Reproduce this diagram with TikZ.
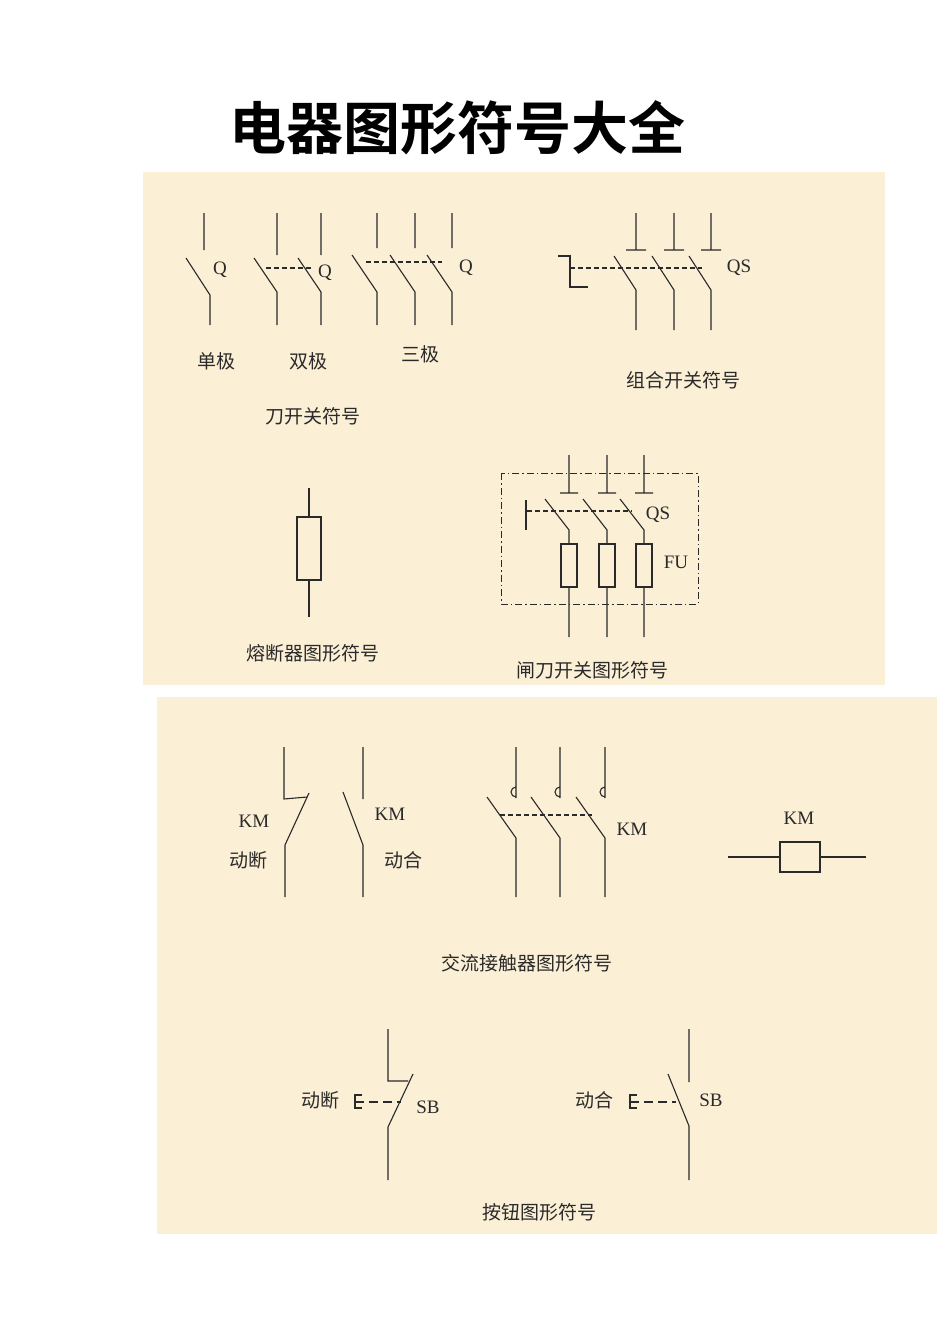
\documentclass[tikz,border=0pt]{standalone}
\usepackage{fontspec}
\setmainfont{Liberation Serif}
\newfontfamily\cjk{Noto Sans CJK SC}
\newfontfamily\cjkbold{Noto Sans CJK SC Bold}
\definecolor{panel}{HTML}{FBEFD6}
\definecolor{ink}{HTML}{2A2A2A}
\begin{document}
\begin{tikzpicture}[x=1pt,y=-1pt,
  w/.style={draw=ink,line width=1.1pt},
  dsh/.style={draw=ink,line width=1.1pt,dash pattern=on 5pt off 3pt},
  cn/.style={font=\cjk\fontsize{19}{19}\selectfont,text=ink,inner sep=0pt},
  lt/.style={font=\fontsize{19}{19}\selectfont,text=ink,inner sep=0pt}]
\useasboundingbox (0,0) rectangle (950,1344);
\fill[white] (0,0) rectangle (950,1344);
\fill[panel] (143,172) rectangle (885,685);
\fill[panel] (157,697) rectangle (937,1234);
\node[font=\cjkbold\fontsize{57}{57}\selectfont,inner sep=0pt] (title) at (457,128) {电器图形符号大全};
% single
\draw[w] (204,213)--(204,250) (186,258)--(210,295)--(210,325);
\node[lt] (q1) at (220,270) {Q};
% double
\foreach \x in {277,321}{\draw[w] (\x,213)--(\x,255) (\x-23,258)--(\x,292)--(\x,325);}
\draw[dsh] (266,268)--(312,268);
\node[lt] (q2) at (325,273) {Q};
% triple
\foreach \x in {377,415,452}{\draw[w] (\x,213)--(\x,248) (\x-25,255)--(\x,292)--(\x,325);}
\draw[dsh] (366,262)--(442,262);
\node[lt] (q3) at (466,268) {Q};
\node[cn] (l1) at (216,361) {单极};
\node[cn] (l2) at (308,361) {双极};
\node[cn] (l3) at (420,354) {三极};
\node[cn] (l4) at (313,416) {刀开关符号};
% group switch
\foreach \x in {636,674,711}{\draw[w] (\x,213)--(\x,250) (\x-10,250)--(\x+10,250) (\x-22,256)--(\x,290)--(\x,330);}
\draw[dsh] (570,268)--(702,268);
\draw[w] (558,256)--(570,256)--(570,287)--(588,287);
\node[lt] (qs1) at (739,268) {QS};
\node[cn] (l5) at (683,380) {组合开关符号};
% fuse
\draw[w] (309,488)--(309,617);
\draw[w,fill=panel] (297,517) rectangle (321,580);
\node[cn] (l6) at (313,653) {熔断器图形符号};
% disconnector
\draw[draw=ink,line width=0.9pt,dash pattern=on 7pt off 3pt on 1.5pt off 3pt] (501,473) rectangle (698,604);
\foreach \x in {569,607,644}{\draw[w] (\x,455)--(\x,493) (\x-9,493)--(\x+9,493) (\x-24,499)--(\x,530)--(\x,637);
  \draw[w,fill=panel] (\x-8,544) rectangle (\x+8,587);}
\draw[dsh] (527,511)--(632,511);
\draw[w] (526,500)--(526,530);
\node[lt] (qs2) at (658,515) {QS};
\node[lt] (fu) at (676,562) {FU};
\node[cn] (l7) at (592,670) {闸刀开关图形符号};
% contactor NC
\draw[w] (284,747)--(284,799)--(307,797) (309,793)--(285,845)--(285,897);
\node[lt] (km1) at (254,821) {KM};
\node[cn] (l8) at (248,860) {动断};
% NO
\draw[w] (363,747)--(363,799) (343,792)--(363,845)--(363,897);
\node[lt] (km2) at (390,814) {KM};
\node[cn] (l9) at (403,860) {动合};
% 3 pole
\foreach \x in {516,560,605}{\draw[w] (\x,747)--(\x,798) (\x,787) arc[start angle=270,end angle=90,radius=5];
  \draw[w] (\x-29,797)--(\x,838)--(\x,897);}
\draw[dsh] (500,815)--(592,815);
\node[lt] (km3) at (632,829) {KM};
% coil
\draw[w] (728,857)--(780,857) (820,857)--(866,857);
\draw[w] (780,842) rectangle (820,872);
\node[lt] (km4) at (799,818) {KM};
\node[cn] (l10) at (527,963) {交流接触器图形符号};
% button NC
\draw[w] (388,1029)--(388,1081)--(408,1081) (413,1074)--(388,1127)--(388,1180);
\draw[w] (362,1095)--(355,1095)--(355,1108)--(362,1108);
\draw[w,dash pattern=on 9pt off 5pt] (355,1102)--(401,1102);
\node[cn] (l11) at (320,1100) {动断};
\node[lt] (sb1) at (428,1107) {SB};
% button NO
\draw[w] (689,1029)--(689,1082) (668,1074)--(689,1126)--(689,1180);
\draw[w] (637,1095)--(630,1095)--(630,1108)--(637,1108);
\draw[w,dash pattern=on 9pt off 5pt] (630,1102)--(676,1102);
\node[cn] (l12) at (594,1100) {动合};
\node[lt] (sb2) at (711,1100) {SB};
\node[cn] (l13) at (539,1212) {按钮图形符号};
\end{tikzpicture}
\end{document}
